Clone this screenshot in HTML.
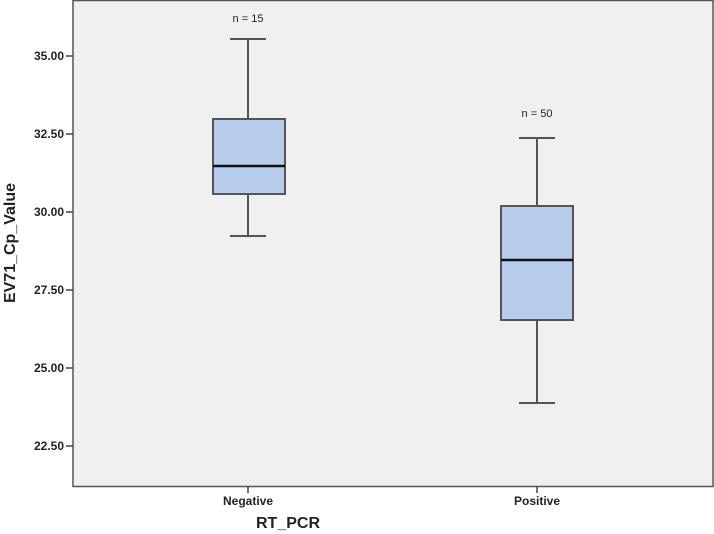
<!DOCTYPE html>
<html><head><style>body{margin:0;background:#fff}svg{display:block}</style></head><body>
<svg width="714" height="534" xmlns="http://www.w3.org/2000/svg" font-family="Liberation Sans, sans-serif">
<rect x="73" y="0.5" width="640" height="486" fill="#f0f0f0" stroke="#555" stroke-width="1.5"/>
<g stroke="#444" stroke-width="1.5">
<line x1="66" y1="56" x2="73" y2="56"/><line x1="66" y1="134" x2="73" y2="134"/><line x1="66" y1="212" x2="73" y2="212"/><line x1="66" y1="290" x2="73" y2="290"/><line x1="66" y1="368" x2="73" y2="368"/><line x1="66" y1="446" x2="73" y2="446"/>
<line x1="248" y1="486" x2="248" y2="493"/><line x1="537" y1="486" x2="537" y2="493"/>
</g>
<g font-size="12" font-weight="bold" fill="#222" text-anchor="end">
<text x="64" y="60">35.00</text><text x="64" y="138">32.50</text><text x="64" y="216">30.00</text><text x="64" y="294">27.50</text><text x="64" y="372">25.00</text><text x="64" y="450">22.50</text>
</g>
<g font-size="12" font-weight="bold" fill="#222" text-anchor="middle">
<text x="248" y="505">Negative</text><text x="537" y="505">Positive</text>
</g>
<text x="288" y="528" font-size="16" font-weight="bold" text-anchor="middle" fill="#222">RT_PCR</text>
<text transform="translate(15,243) rotate(-90)" font-size="16" font-weight="bold" text-anchor="middle" fill="#222">EV71_Cp_Value</text>
<g stroke="#555" stroke-width="2">
<line x1="248" y1="39" x2="248" y2="119"/><line x1="230" y1="39" x2="266" y2="39"/>
<line x1="248" y1="194" x2="248" y2="236"/><line x1="230" y1="236" x2="266" y2="236"/>
<line x1="537" y1="138" x2="537" y2="206"/><line x1="519" y1="138" x2="555" y2="138"/>
<line x1="537" y1="320" x2="537" y2="403"/><line x1="519" y1="403" x2="555" y2="403"/>
</g>
<rect x="213" y="119" width="72" height="75" fill="#b8cdec" stroke="#555" stroke-width="2"/>
<rect x="501" y="206" width="72" height="114" fill="#b8cdec" stroke="#555" stroke-width="2"/>
<line x1="213" y1="166" x2="285" y2="166" stroke="#111" stroke-width="2.5"/>
<line x1="501" y1="260" x2="573" y2="260" stroke="#111" stroke-width="2.5"/>
<g font-size="11" fill="#222" text-anchor="middle"><text x="248" y="22">n = 15</text><text x="537" y="117">n = 50</text></g>
</svg>
</body></html>
